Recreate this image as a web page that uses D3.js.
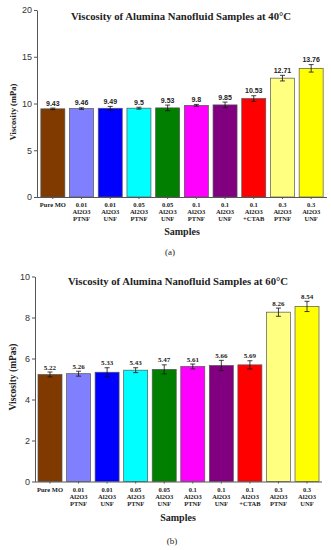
<!DOCTYPE html>
<html>
<head>
<meta charset="utf-8">
<script src="https://cdn.jsdelivr.net/npm/d3@7"></script>
<style>
    body { margin: 0; background: #fff; }
    svg { display: block; }
    .axis path, .axis line { stroke: #555; }
    .axis text { font-family: "Liberation Sans", Arial, sans-serif; fill: #333; }
    .serif { font-family: "Liberation Serif", "Times New Roman", serif; font-weight: bold; fill: #222; }
</style>
</head>
<body>
<div id="graph"></div>
<script>
/*
    Viscosity of alumina nanofluid samples, two panels (40 and 60 C)
*/

// categories, one line per row of the label
var categories = [
    "Pure MO",
    "0.01\nAl2O3\nPTNF",
    "0.01\nAl2O3\nUNF",
    "0.05\nAl2O3\nPTNF",
    "0.05\nAl2O3\nUNF",
    "0.1\nAl2O3\nPTNF",
    "0.1\nAl2O3\nUNF",
    "0.1\nAl2O3\n+CTAB",
    "0.3\nAl2O3\nPTNF",
    "0.3\nAl2O3\nUNF"
]

var barColors = [ "#803a00", "#8080ff", "#0000ff", "#00ffff", "#007f00",
                  "#ff00ff", "#800080", "#ff0000", "#ffff80", "#ffff00" ]

// panel (a) at 40 C
var visc40 = [ 9.43, 9.46, 9.49, 9.5, 9.53, 9.8, 9.85, 10.53, 12.71, 13.76 ]
var err40  = [ 0.08, 0.08, 0.2, 0.1, 0.3, 0.1, 0.3, 0.3, 0.3, 0.4 ]
var labels40 = [ "9.43", "9.46", "9.49", "9.5", "9.53", "9.8", "9.85", "10.53", "12.71", "13.76" ]
var ticks40 = [ 0, 5, 10, 15, 20 ]

// panel (b) at 60 C
var visc60 = [ 5.22, 5.26, 5.33, 5.43, 5.47, 5.61, 5.66, 5.69, 8.26, 8.54 ]
var err60  = [ 0.12, 0.12, 0.22, 0.12, 0.22, 0.12, 0.25, 0.2, 0.2, 0.25 ]
var labels60 = [ "5.22", "5.26", "5.33", "5.43", "5.47", "5.61", "5.66", "5.69", "8.26", "8.54" ]
var ticks60 = [ 0, 2, 4, 6, 8, 10 ]

var svg = d3.select("#graph").append("svg")
    .attr("width", 331)
    .attr("height", 550)

function drawPanel(opt) {
    var data = categories.map(function (c, i) {
        return { cat: c, value: opt.values[i], err: opt.errors[i], label: opt.labels[i], color: barColors[i] }
    })

    var x = d3.scaleBand()
        .domain(categories)
        .range([opt.left, opt.right])
        .paddingInner(opt.padIn)
        .paddingOuter(opt.padOut)

    var y = d3.scaleLinear()
        .domain([0, opt.max])
        .range([opt.bottom, opt.top])

    var g = svg.append("g")

    // bars
    g.selectAll("rect.bar")
        .data(data)
        .enter().append("rect")
        .attr("class", "bar")
        .attr("x", function (d) { return x(d.cat) })
        .attr("y", function (d) { return y(d.value) })
        .attr("width", x.bandwidth())
        .attr("height", function (d) { return y(0) - y(d.value) })
        .attr("fill", function (d) { return d.color })
        .attr("stroke", "#555")
        .attr("stroke-width", 0.7)

    // error bars
    var eb = g.selectAll("g.err")
        .data(data)
        .enter().append("g")
        .attr("class", "err")
        .attr("stroke", "#111")
        .attr("stroke-width", 0.8)
    eb.append("line")
        .attr("x1", function (d) { return x(d.cat) + x.bandwidth() / 2 })
        .attr("x2", function (d) { return x(d.cat) + x.bandwidth() / 2 })
        .attr("y1", function (d) { return y(d.value - d.err) })
        .attr("y2", function (d) { return y(d.value + d.err) })
    eb.append("line")
        .attr("x1", function (d) { return x(d.cat) + x.bandwidth() / 2 - 2.5 })
        .attr("x2", function (d) { return x(d.cat) + x.bandwidth() / 2 + 2.5 })
        .attr("y1", function (d) { return y(d.value + d.err) })
        .attr("y2", function (d) { return y(d.value + d.err) })
    eb.append("line")
        .attr("x1", function (d) { return x(d.cat) + x.bandwidth() / 2 - 2.5 })
        .attr("x2", function (d) { return x(d.cat) + x.bandwidth() / 2 + 2.5 })
        .attr("y1", function (d) { return y(d.value - d.err) })
        .attr("y2", function (d) { return y(d.value - d.err) })

    // value labels
    g.selectAll("text.val")
        .data(data)
        .enter().append("text")
        .attr("class", "val")
        .attr("x", function (d) { return x(d.cat) + x.bandwidth() / 2 })
        .attr("y", function (d) { return y(d.value + d.err) - 2.5 })
        .attr("text-anchor", "middle")
        .style("font-family", opt.valFont)
        .style("font-weight", "bold")
        .style("font-size", "7px")
        .style("fill", "#222")
        .text(function (d) { return d.label })

    // y axis
    var ya = g.append("g")
        .attr("class", "axis")
        .attr("transform", "translate(" + opt.left + ",0)")
        .call(d3.axisLeft(y).tickValues(opt.ticks).tickSize(3).tickPadding(2).tickSizeOuter(0))
    ya.selectAll("text").style("font-size", "9px")

    // x axis
    var xa = g.append("g")
        .attr("class", "axis")
        .attr("transform", "translate(0," + opt.bottom + ")")
        .call(d3.axisBottom(x).tickSize(2).tickSizeOuter(0).tickFormat(""))
    xa.select("path.domain").attr("d", "M" + opt.left + ",0.5H" + opt.right)

    // category labels
    var cl = g.selectAll("text.cat")
        .data(data)
        .enter().append("text")
        .attr("class", "serif")
        .attr("text-anchor", "middle")
        .style("font-size", "6.5px")
        .attr("x", function (d) { return x(d.cat) + x.bandwidth() / 2 })
        .attr("y", opt.bottom + 10)
    cl.selectAll("tspan")
        .data(function (d) { return d.cat.split("\n") })
        .enter().append("tspan")
        .attr("x", function () { return d3.select(this.parentNode).attr("x") })
        .attr("dy", function (d, i) { return i == 0 ? 0 : 7 })
        .text(function (d) { return d })

    // title
    g.append("text")
        .attr("class", "serif")
        .attr("x", opt.titleX)
        .attr("y", opt.titleY)
        .attr("text-anchor", "middle")
        .style("font-size", "10.7px")
        .text(opt.title)

    // axis titles
    g.append("text")
        .attr("class", "serif")
        .attr("x", opt.samplesX)
        .attr("y", opt.samplesY)
        .attr("text-anchor", "middle")
        .style("font-size", "10px")
        .text("Samples")

    g.append("text")
        .attr("class", "serif")
        .attr("transform", "translate(" + opt.ylabX + "," + opt.ylabY + ") rotate(-90)")
        .attr("text-anchor", "middle")
        .style("font-size", opt.ylabSize)
        .text(opt.ylab)

    g.append("text")
        .attr("x", opt.capX)
        .attr("y", opt.capY)
        .attr("text-anchor", "middle")
        .style("font-family", "Liberation Serif, serif")
        .style("font-size", "9px")
        .style("fill", "#222")
        .text(opt.caption)
}

drawPanel({
    values: visc40, errors: err40, labels: labels40, ticks: ticks40, max: 20,
    left: 37, right: 327, top: 10, bottom: 197, padIn: 0.164, padOut: 0.134,
    valFont: "Liberation Sans, Arial, sans-serif",
    title: "Viscosity of Alumina Nanofluid Samples at 40°C", titleX: 181, titleY: 20,
    samplesX: 182, samplesY: 235,
    ylab: "Viscosity (mPa)", ylabX: 16, ylabY: 112, ylabSize: "8.5px",
    caption: "(a)", capX: 170, capY: 255
})

drawPanel({
    values: visc60, errors: err60, labels: labels60, ticks: ticks60, max: 10,
    left: 35, right: 322, top: 276.5, bottom: 481.5, padIn: 0.16, padOut: 0.105,
    valFont: "Liberation Serif, serif",
    title: "Viscosity of Alumina Nanofluid Samples at 60°C", titleX: 178, titleY: 285,
    samplesX: 178, samplesY: 521,
    ylab: "Viscosity (mPas)", ylabX: 16, ylabY: 377, ylabSize: "9.5px",
    caption: "(b)", capX: 172, capY: 544
})
</script>
</body>
</html>
